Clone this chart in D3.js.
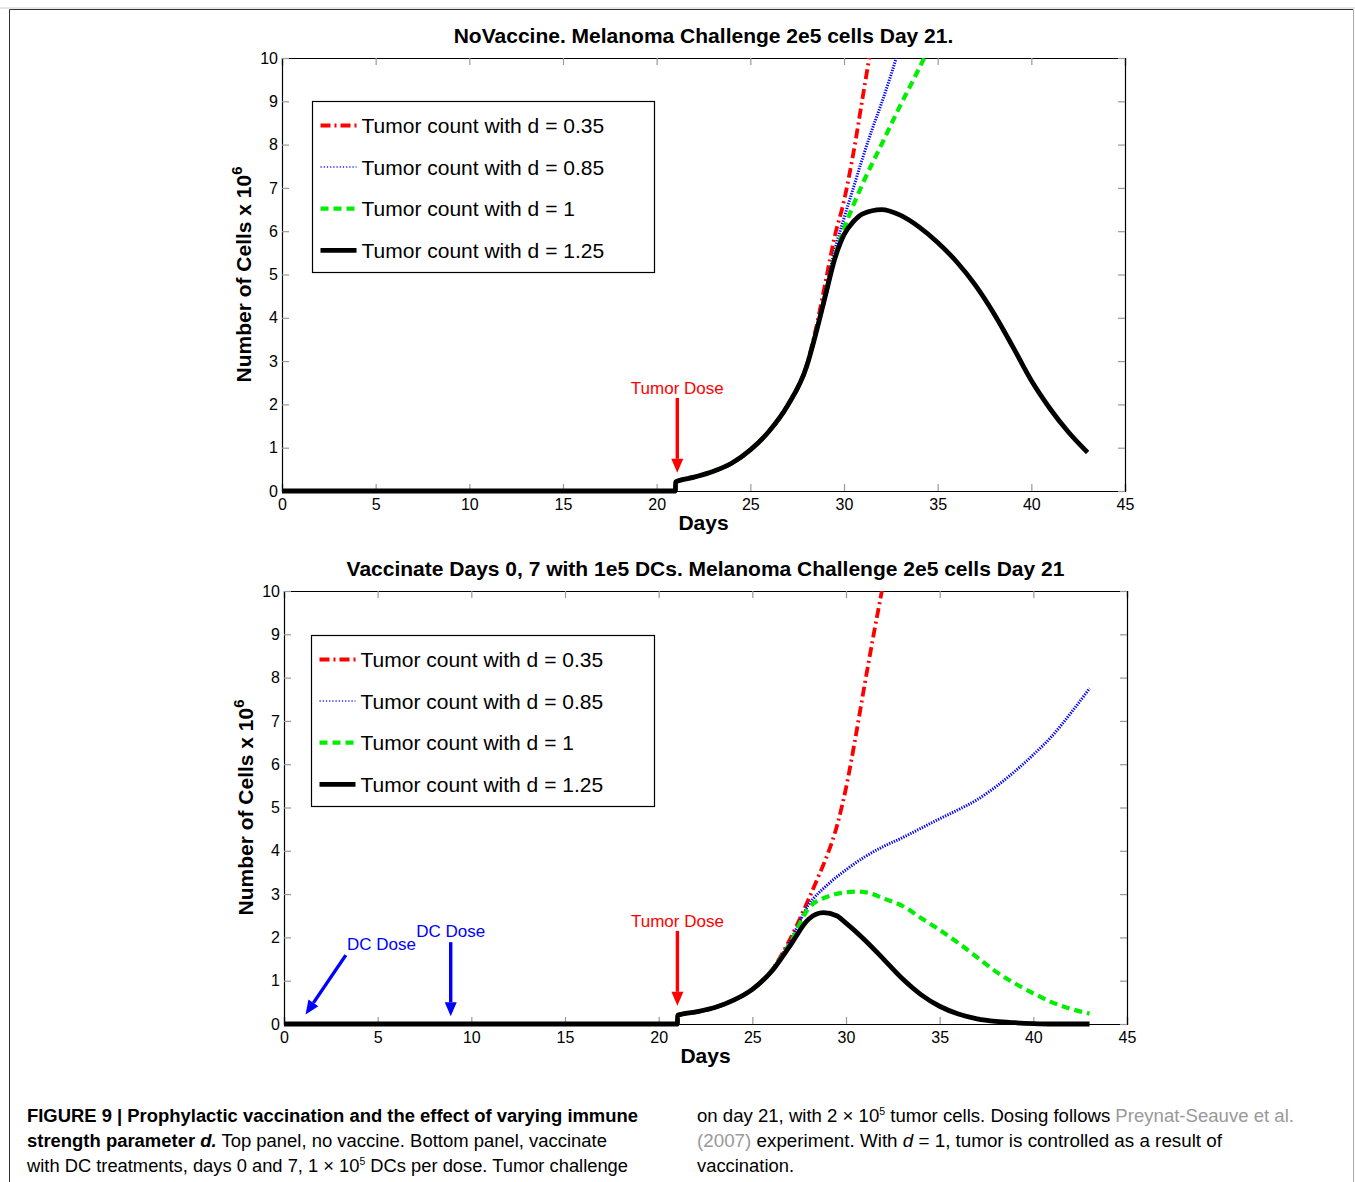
<!DOCTYPE html>
<html><head><meta charset="utf-8">
<script src="https://cdn.jsdelivr.net/npm/d3@7"></script>
<style>
html,body{margin:0;padding:0;background:#fff;}
text{font-family:"Liberation Sans",Arial,Helvetica,sans-serif;}
</style></head>
<body><svg id="c" width="1355" height="1182"></svg>
<script>
// ---------- DATA ----------
const xTicks = [0,5,10,15,20,25,30,35,40,45];
const yTicks = [0,1,2,3,4,5,6,7,8,9,10];
const seriesNames = ["Tumor count with d = 0.35","Tumor count with d = 0.85","Tumor count with d = 1","Tumor count with d = 1.25"];

// Top panel (no vaccine)
const topDaysRed   = [0,21,21.01,22,23,24,25,26,27,28,28.5,29,29.5,30,30.5,31,31.5];
const topValsRed   = [0,0,0.21,0.32,0.45,0.64,0.95,1.38,1.98,2.9,3.75,4.8,5.87,6.7,7.8,9.1,10.4];
const topDaysBlue  = [0,21,21.01,22,23,24,25,26,27,28,28.5,29,29.5,30,30.5,31,31.5,32,32.5,33];
const topValsBlue  = [0,0,0.21,0.32,0.45,0.64,0.95,1.38,1.98,2.88,3.7,4.6,5.55,6.3,7.0,7.7,8.35,8.95,9.6,10.3];
const topDaysGreen = [0,21,21.01,22,23,24,25,26,27,28,28.5,29,29.5,30,31,32,33,34,34.5];
const topValsGreen = [0,0,0.21,0.32,0.45,0.64,0.95,1.38,1.98,2.87,3.66,4.5,5.4,6.05,7.1,8.0,8.9,9.75,10.2];
const topDaysBlack = [0,21,21.01,22,23,24,25,26,27,28,28.5,29,29.5,30,30.5,31,32,33,34,35,36,37,38,39,40,41,42,43];
const topValsBlack = [0,0,0.21,0.32,0.45,0.64,0.95,1.38,1.98,2.87,3.64,4.5,5.35,5.92,6.22,6.4,6.5,6.37,6.1,5.74,5.3,4.76,4.1,3.34,2.55,1.9,1.35,0.89];

// Bottom panel (vaccinated days 0, 7)
const botDaysRed   = [0,21,21.01,22,23,24,25,26,27,28,28.5,29,29.5,30,30.5,31,31.5,32,32.5];
const botValsRed   = [0,0,0.2,0.28,0.38,0.55,0.8,1.22,1.95,2.88,3.38,3.9,4.55,5.45,6.6,7.85,9.05,10.2,11.4];
const botDaysBlue  = [0,21,21.01,22,23,24,25,26,27,28,29,30,31,32,33,34,35,36,37,38,39,40,41,42,43];
const botValsBlue  = [0,0,0.2,0.28,0.38,0.55,0.8,1.22,1.9,2.75,3.21,3.56,3.86,4.1,4.3,4.52,4.74,4.95,5.18,5.48,5.83,6.22,6.65,7.18,7.75];
const botDaysGreen = [0,21,21.01,22,23,24,25,26,27,28,29,30,30.6,31.3,32,33,34,35,36,37,38,39,40,41,42,43];
const botValsGreen = [0,0,0.2,0.28,0.38,0.55,0.8,1.22,1.85,2.67,2.94,3.04,3.06,3.02,2.9,2.73,2.45,2.17,1.87,1.54,1.21,0.94,0.71,0.5,0.35,0.24];
const botDaysBlack = [0,21,21.01,22,23,24,25,26,27,28,28.8,29.5,30,31,32,33,34,35,36,37,38,39,40,41,42,43];
const botValsBlack = [0,0,0.2,0.28,0.38,0.55,0.8,1.2,1.8,2.42,2.57,2.5,2.33,1.94,1.5,1.05,0.68,0.41,0.23,0.12,0.06,0.03,0.01,0,0,0];

// ---------- STYLES ----------
const styles = [
  {color:"#ff0000", width:3.8, dash:"10,4,2,4"},
  {color:"#0000ff", width:3, dash:"1.3,1.3"},
  {color:"#00ee00", width:4.2, dash:"8,5"},
  {color:"#000000", width:4.8, dash:null}
];

const svg = d3.select("#c");

// Outer frame
svg.append("line").attr("x1",0).attr("x2",1355).attr("y1",8).attr("y2",8).attr("stroke","#ccc").attr("stroke-width",1);
svg.append("line").attr("x1",9.5).attr("x2",1353).attr("y1",9.5).attr("y2",9.5).attr("stroke","#333").attr("stroke-width",1);
svg.append("line").attr("x1",9.5).attr("x2",9.5).attr("y1",9.5).attr("y2",1182).attr("stroke","#333").attr("stroke-width",1);
svg.append("line").attr("x1",1353.5).attr("x2",1353.5).attr("y1",9.5).attr("y2",1182).attr("stroke","#aaa").attr("stroke-width",1);

function panel(cfg){
  const x = d3.scaleLinear().domain([0,45]).range([cfg.left,cfg.right]);
  const y = d3.scaleLinear().domain([0,10]).range([cfg.bottom,cfg.top]);
  const g = svg.append("g");
  const clipId = "clip"+cfg.id;
  svg.append("clipPath").attr("id",clipId).append("rect")
    .attr("x",cfg.left).attr("y",cfg.top).attr("width",cfg.right-cfg.left).attr("height",cfg.bottom-cfg.top+4);

  // axes
  const axB = g.append("g").attr("transform",`translate(0,${cfg.bottom})`)
    .call(d3.axisBottom(x).tickValues(xTicks).tickSize(-7).tickPadding(8));
  const axT = g.append("g").attr("transform",`translate(0,${cfg.top})`)
    .call(d3.axisTop(x).tickValues(xTicks).tickSize(-7).tickFormat(""));
  const axL = g.append("g").attr("transform",`translate(${cfg.left},0)`)
    .call(d3.axisLeft(y).tickValues(yTicks).tickSize(-7).tickPadding(4));
  const axR = g.append("g").attr("transform",`translate(${cfg.right},0)`)
    .call(d3.axisRight(y).tickValues(yTicks).tickSize(-7).tickFormat(""));
  [axB,axT,axL,axR].forEach(a=>{
    a.select(".domain").attr("stroke","#000").attr("stroke-width",1.2);
    a.selectAll(".tick line").attr("stroke","#999").attr("stroke-width",1.2);
    a.selectAll(".tick text").attr("fill","#000").style("font-size","16px")
      .style("font-family","'Liberation Sans',Arial,sans-serif");
  });

  // lines
  const line = d3.line().x(d=>x(d[0])).y(d=>y(d[1])).curve(d3.curveMonotoneX);
  const lg = g.append("g").attr("clip-path",`url(#${clipId})`);
  cfg.series.forEach((s,i)=>{
    const st = styles[i];
    const pts = s.days.map((d,j)=>[d,s.vals[j]]);
    lg.append("path").datum(pts).attr("d",line).attr("fill","none")
      .attr("stroke",st.color).attr("stroke-width",st.width)
      .attr("stroke-dasharray",st.dash).attr("stroke-linejoin","round");
  });

  // title
  g.append("text").attr("x",(cfg.left+cfg.right)/2).attr("y",cfg.top-15)
    .attr("text-anchor","middle").style("font-size","21px").style("font-weight","bold").text(cfg.title);
  // x label
  g.append("text").attr("x",(cfg.left+cfg.right)/2).attr("y",cfg.bottom+39)
    .attr("text-anchor","middle").style("font-size","21px").style("font-weight","bold").text("Days");
  // y label
  const yl = g.append("text").attr("transform",`translate(${cfg.left-31},${(cfg.top+cfg.bottom)/2}) rotate(-90)`)
    .attr("text-anchor","middle").style("font-size","21px").style("font-weight","bold");
  yl.append("tspan").text("Number of Cells x 10");
  yl.append("tspan").attr("dy",-9).style("font-size","15px").text("6");

  // legend
  const L = cfg.legend;
  g.append("rect").attr("x",L.x).attr("y",L.y).attr("width",L.w).attr("height",L.h)
    .attr("fill","#fff").attr("stroke","#000").attr("stroke-width",1.2);
  seriesNames.forEach((n,i)=>{
    const yy = L.y + 24 + i*41.6;
    const st = styles[i];
    g.append("line").attr("x1",L.x+8).attr("x2",L.x+44).attr("y1",yy).attr("y2",yy)
      .attr("stroke",i===1?"#5555ff":st.color).attr("stroke-width",i===1?2:st.width).attr("stroke-dasharray",i===1?"1.2,2":st.dash);
    g.append("text").attr("x",L.x+49).attr("y",yy+7.5).style("font-size","21px").text(n);
  });

  // annotations
  cfg.notes.forEach(n=>{
    g.append("text").attr("x",x(n.tx)).attr("y",y(n.ty)).attr("text-anchor","middle")
      .attr("fill",n.color).style("font-size","17px").text(n.label);
    const x1=x(n.ax1), y1=y(n.ay1), x2=x(n.ax2), y2=y(n.ay2);
    const ang = Math.atan2(y2-y1,x2-x1);
    const hl=14, hw=6;
    const bx = x2 - hl*Math.cos(ang), by = y2 - hl*Math.sin(ang);
    g.append("line").attr("x1",x1).attr("y1",y1).attr("x2",bx).attr("y2",by)
      .attr("stroke",n.color).attr("stroke-width",3.4);
    const px = -Math.sin(ang), py = Math.cos(ang);
    g.append("path").attr("d",`M${x2},${y2}L${bx+px*hw},${by+py*hw}L${bx-px*hw},${by-py*hw}Z`)
      .attr("fill",n.color);
  });
}

panel({id:"top", left:282, right:1125, top:58, bottom:491,
  title:"NoVaccine. Melanoma Challenge 2e5 cells Day 21.",
  series:[{days:topDaysRed,vals:topValsRed},{days:topDaysBlue,vals:topValsBlue},
          {days:topDaysGreen,vals:topValsGreen},{days:topDaysBlack,vals:topValsBlack}],
  legend:{x:312.5,y:101.5,w:342,h:171},
  notes:[{label:"Tumor Dose",color:"#ff0000",tx:21.1,ty:2.25,ax1:21.1,ay1:2.15,ax2:21.1,ay2:0.42}]
});
panel({id:"bot", left:284, right:1127, top:591, bottom:1024,
  title:"Vaccinate Days 0, 7 with 1e5 DCs. Melanoma Challenge 2e5 cells Day 21",
  series:[{days:botDaysRed,vals:botValsRed},{days:botDaysBlue,vals:botValsBlue},
          {days:botDaysGreen,vals:botValsGreen},{days:botDaysBlack,vals:botValsBlack}],
  legend:{x:311.5,y:635.5,w:343,h:171},
  notes:[{label:"Tumor Dose",color:"#ff0000",tx:21.0,ty:2.25,ax1:21.0,ay1:2.15,ax2:21.0,ay2:0.42},
         {label:"DC Dose",color:"#0000ff",tx:5.2,ty:1.7,ax1:3.3,ay1:1.59,ax2:1.15,ay2:0.22},
         {label:"DC Dose",color:"#0000ff",tx:8.9,ty:2.0,ax1:8.9,ay1:1.89,ax2:8.9,ay2:0.18}]
});

// ---------- CAPTION ----------
const capFont = "'Liberation Sans Narrow','Liberation Sans',Arial,sans-serif";
function capLine(xp, yp, len, parts){
  const t = svg.append("text").attr("x",xp).attr("y",yp).style("font-size","17.5px")
    .style("font-family",capFont).attr("textLength",len).attr("lengthAdjust","spacingAndGlyphs");
  parts.forEach(p=>{
    const s = t.append("tspan").text(p.t);
    if(p.b) s.style("font-weight","bold");
    if(p.i) s.style("font-style","italic");
    if(p.c) s.attr("fill",p.c);
    if(p.sup){ s.attr("dy",-7).style("font-size","10px"); }
    if(p.unsup){ s.attr("dy",7); }
  });
}
capLine(27,1122,611,[{t:"FIGURE 9 | Prophylactic vaccination and the effect of varying immune",b:1}]);
capLine(27,1147,580,[{t:"strength parameter ",b:1},{t:"d.",b:1,i:1},{t:" Top panel, no vaccine. Bottom panel, vaccinate"}]);
capLine(27,1172,601,[{t:"with DC treatments, days 0 and 7, 1 × 10"},{t:"5",sup:1},{t:" DCs per dose. Tumor challenge",unsup:1}]);
capLine(697,1122,597,[{t:"on day 21, with 2 × 10"},{t:"5",sup:1},{t:" tumor cells. Dosing follows ",unsup:1},{t:"Preynat-Seauve et al.",c:"#999"}]);
capLine(697,1147,525,[{t:"(2007)",c:"#999"},{t:" experiment. With "},{t:"d",i:1},{t:" = 1, tumor is controlled as a result of"}]);
capLine(697,1172,97,[{t:"vaccination."}]);
</script></body></html>
